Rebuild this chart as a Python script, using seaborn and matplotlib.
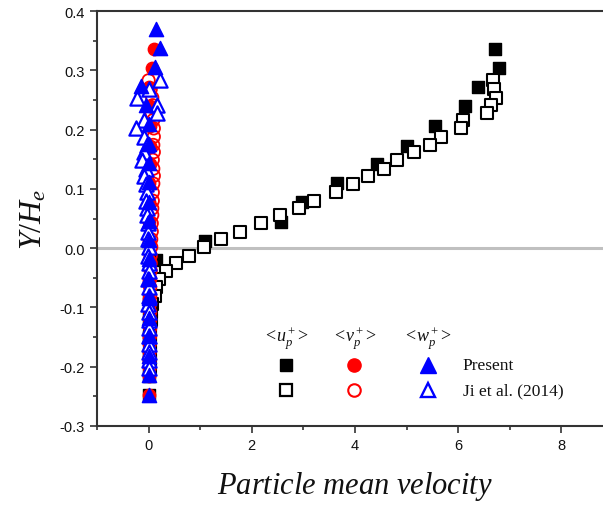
import matplotlib
matplotlib.use("Agg")
import matplotlib.pyplot as plt
import seaborn as sns
import numpy as np
import pandas as pd

# ---------------- data ----------------
# Present (filled markers)
y_present = [0.336, 0.304, 0.271, 0.239, 0.206, 0.173, 0.142, 0.110, 0.077, 0.044,
             0.012, -0.020, -0.053, -0.085, -0.118, -0.150, -0.183, -0.215, -0.248]
u_present = [6.72, 6.80, 6.38, 6.13, 5.56, 5.00, 4.42, 3.65, 2.98, 2.57,
             1.10, 0.15, 0.02, 0.01, 0.01, 0.00, 0.00, 0.00, 0.00]
v_present = [0.10, 0.07, 0.01, 0.03, 0.03, 0.02, 0.02, 0.01, 0.01, 0.01,
             0.00, 0.00, 0.00, 0.00, 0.00, 0.00, 0.00, 0.00, 0.00]
y_present_w = [0.370, 0.337, 0.305, 0.273, 0.241, 0.209, 0.175, 0.143, 0.111, 0.078,
               0.046, 0.013, -0.019, -0.052, -0.084, -0.117, -0.149, -0.182, -0.214, -0.247]
w_present = [0.15, 0.22, 0.13, -0.14, -0.06, 0.00, 0.00, 0.00, 0.00, 0.00,
             0.00, 0.00, 0.00, 0.00, 0.00, 0.00, 0.00, 0.00, 0.00, 0.00]

# Ji et al. (2014) (open markers)
y_ji = [0.283, 0.268, 0.254, 0.241, 0.228, 0.216, 0.202, 0.188, 0.174, 0.162,
        0.149, 0.134, 0.122, 0.109, 0.094, 0.080, 0.067, 0.056, 0.042, 0.028,
        0.015, 0.002, -0.013, -0.025, -0.038, -0.052, -0.066, -0.081, -0.094, -0.108,
        -0.121, -0.135, -0.148, -0.162, -0.175, -0.189, -0.202]
u_ji = [6.68, 6.69, 6.73, 6.63, 6.55, 6.09, 6.05, 5.67, 5.45, 5.14,
        4.82, 4.56, 4.25, 3.96, 3.63, 3.20, 2.92, 2.54, 2.18, 1.78,
        1.41, 1.07, 0.79, 0.53, 0.33, 0.20, 0.14, 0.13, 0.07, 0.05,
        0.04, 0.03, 0.03, 0.02, 0.02, 0.02, 0.02]
v_ji = [0.00, 0.04, 0.07, 0.08, 0.06, 0.09, 0.10, 0.10, 0.09, 0.10,
        0.08, 0.09, 0.10, 0.09, 0.08, 0.08, 0.07, 0.07, 0.06, 0.06,
        0.05, 0.05, 0.04, 0.04, 0.04, 0.03, 0.03, 0.03, 0.03, 0.03,
        0.03, 0.03, 0.03, 0.02, 0.02, 0.02, 0.02]
w_ji = [0.22, 0.00, -0.22, 0.17, 0.17, -0.09, -0.25, -0.09, -0.03, -0.09,
        -0.12, -0.06, -0.09, -0.06, -0.03, -0.05, -0.04, -0.03, -0.02, -0.02,
        -0.01, 0.00, -0.01, 0.00, 0.00, -0.01, 0.00, 0.00, -0.01, 0.00,
        0.00, 0.00, 0.00, 0.00, 0.00, 0.00, 0.00]

x_ticks = [0, 2, 4, 6, 8]
y_ticks = [-0.3, -0.2, -0.1, 0.0, 0.1, 0.2, 0.3, 0.4]
y_ticklabels = ["-0.3", "-0.2", "-0.1", "0.0", "0.1", "0.2", "0.3", "0.4"]

# ---------------- style ----------------
sns.set_theme(style="white")
plt.rcParams["font.family"] = ["Liberation Sans", "DejaVu Sans"]
plt.rcParams["mathtext.fontset"] = "custom"
plt.rcParams["mathtext.rm"] = "Liberation Serif"
plt.rcParams["mathtext.it"] = "Liberation Serif:italic"

fig = plt.figure(figsize=(6.03, 5.06), dpi=100)
W, H = 603, 506
ax = fig.add_axes([97 / W, 79 / H, 516 / W, 415 / H])

ax.axhline(0, color="#c0c0c0", lw=2.2, zorder=1)

df_up = pd.DataFrame({"x": u_present, "y": y_present})
df_uj = pd.DataFrame({"x": u_ji, "y": y_ji})
df_vp = pd.DataFrame({"x": v_present, "y": y_present})
df_vj = pd.DataFrame({"x": v_ji, "y": y_ji})
df_wp = pd.DataFrame({"x": w_present, "y": y_present_w})
df_wj = pd.DataFrame({"x": w_ji, "y": y_ji})

sq_s, ci_s, tr_s = 72, 80, 105
sns.scatterplot(data=df_up, x="x", y="y", ax=ax, marker="s", s=sq_s,
                color="black", edgecolor="black", linewidth=1, zorder=3)
sns.scatterplot(data=df_uj, x="x", y="y", ax=ax, marker="s", s=sq_s,
                facecolor="white", edgecolor="black", linewidth=1.5, zorder=4)
sns.scatterplot(data=df_vp, x="x", y="y", ax=ax, marker="o", s=ci_s,
                color="red", edgecolor="red", linewidth=1, zorder=5)
sns.scatterplot(data=df_vj, x="x", y="y", ax=ax, marker="o", s=ci_s,
                facecolor="none", edgecolor="red", linewidth=1.3, zorder=6)
sns.scatterplot(data=df_wj, x="x", y="y", ax=ax, marker="^", s=tr_s,
                facecolor="white", edgecolor="blue", linewidth=1.6, zorder=7)
sns.scatterplot(data=df_wp, x="x", y="y", ax=ax, marker="^", s=tr_s,
                color="blue", edgecolor="blue", linewidth=1, zorder=8)

ax.set_xlim(-1, 9)
ax.set_ylim(-0.3, 0.4)
ax.set_xticks(x_ticks)
ax.set_xticks([-1, 1, 3, 5, 7], minor=True)
ax.set_yticks(y_ticks)
ax.set_yticklabels(y_ticklabels)
ax.set_yticks([-0.25, -0.15, -0.05, 0.05, 0.15, 0.25, 0.35], minor=True)
ax.tick_params(axis="both", which="major", direction="out", length=5, width=1.2,
               color="#333333", labelsize=10.5, labelcolor="#111111",
               bottom=True, left=True, top=False, right=False, pad=4)
ax.tick_params(axis="both", which="minor", direction="out", length=3, width=1.2,
               color="#333333", bottom=True, left=True, top=False, right=False)
for sp in ax.spines.values():
    sp.set_color("#333333")
    sp.set_linewidth(1.5)
ax.grid(False)

ax.set_xlabel("$Particle\\ mean\\ velocity$", fontsize=22, labelpad=12, color="#111111")
ax.set_ylabel("$Y/H_e$", fontsize=23, labelpad=8, color="#111111")

# ---------------- legend ----------------
kx = [0.366, 0.498, 0.641]
ry = [0.147, 0.087]
hy = 0.212
headers = [r"$<\!u_p^+\!>$", r"$<\!v_p^+\!>$", r"$<\!w_p^+\!>$"]
for xx, hd in zip(kx, headers):
    ax.text(xx, hy, hd, transform=ax.transAxes, ha="center", va="center", fontsize=13,
            color="#111111")
ax.plot([kx[0]], [ry[0]], marker="s", ms=9, color="black", transform=ax.transAxes, ls="none")
ax.plot([kx[0]], [ry[1]], marker="s", ms=8.5, mfc="white", mec="black", mew=1.6,
        transform=ax.transAxes, ls="none")
ax.plot([kx[1]], [ry[0]], marker="o", ms=9.5, color="red", transform=ax.transAxes, ls="none")
ax.plot([kx[1]], [ry[1]], marker="o", ms=9, mfc="none", mec="red", mew=1.5,
        transform=ax.transAxes, ls="none")
ax.plot([kx[2]], [ry[0]], marker="^", ms=11, color="blue", transform=ax.transAxes, ls="none")
ax.plot([kx[2]], [ry[1]], marker="^", ms=10, mfc="white", mec="blue", mew=1.7,
        transform=ax.transAxes, ls="none")
ax.text(0.709, ry[0], "Present", transform=ax.transAxes, va="center", fontsize=12.5,
        family="Liberation Serif", color="#111111")
ax.text(0.709, ry[1], "Ji et al. (2014)", transform=ax.transAxes, va="center", fontsize=12.5,
        family="Liberation Serif", color="#111111")

fig.savefig("out.png", dpi=100)
